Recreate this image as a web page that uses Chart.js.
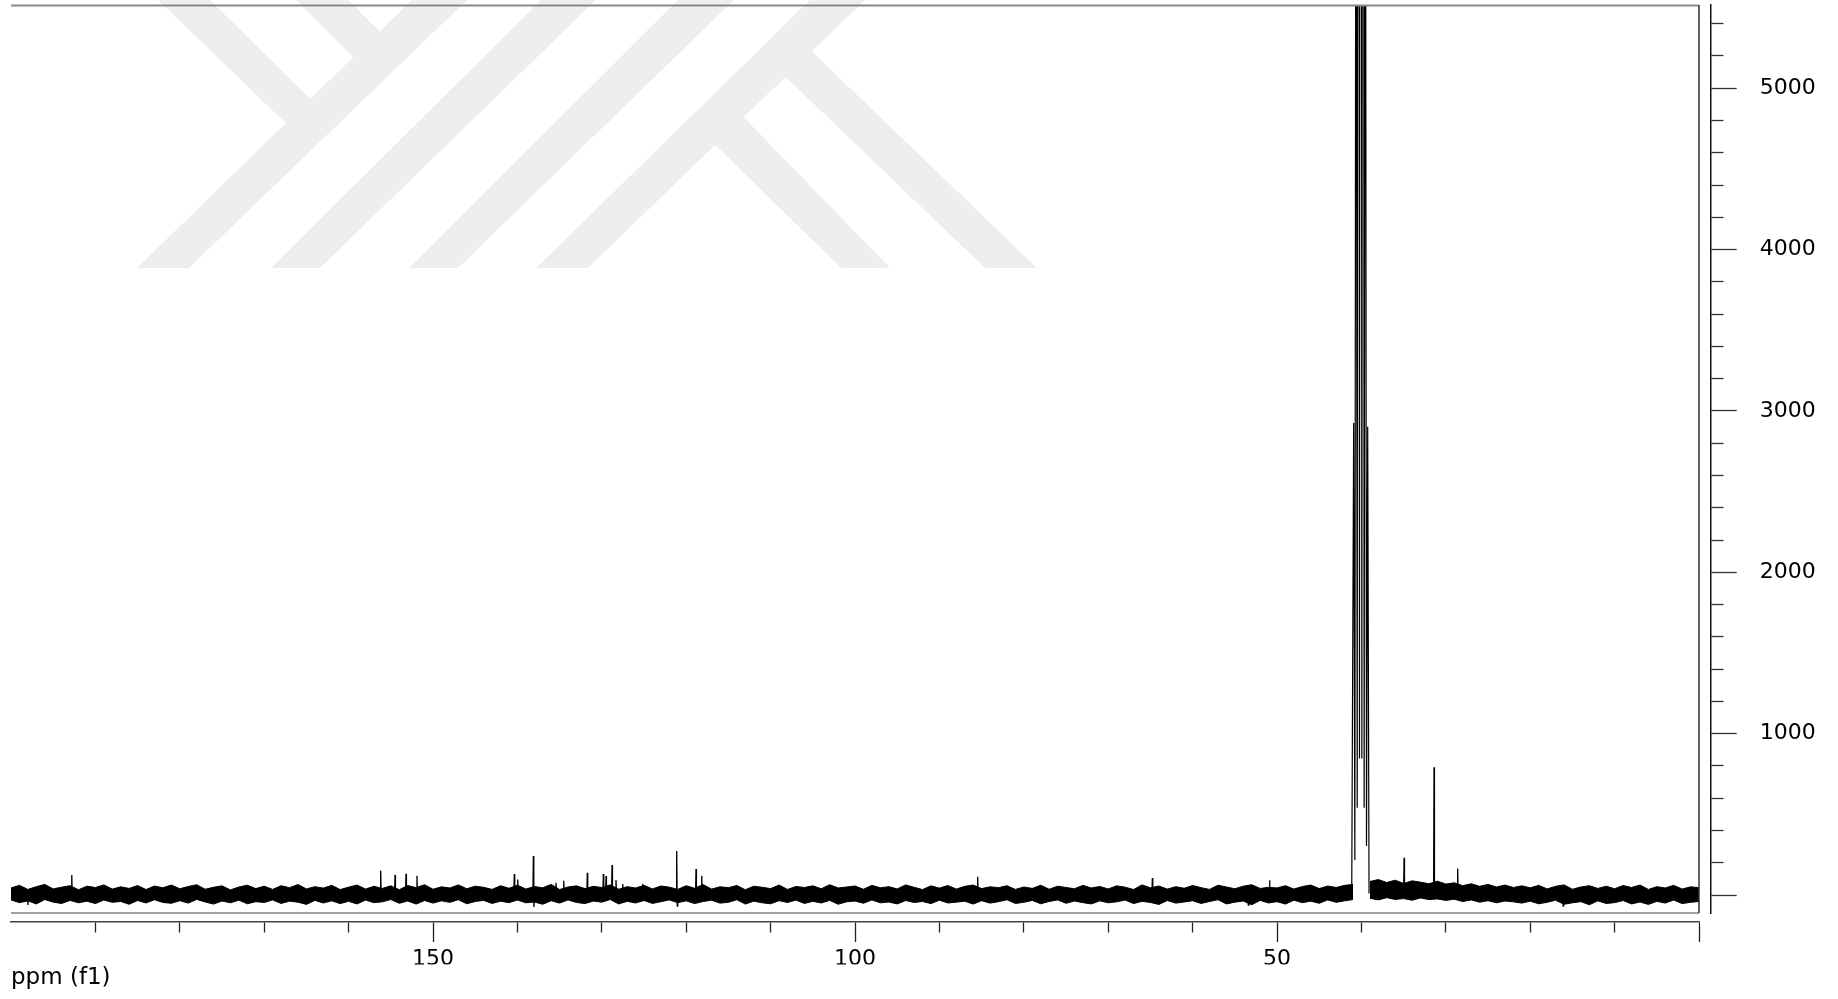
<!DOCTYPE html>
<html>
<head>
<meta charset="utf-8">
<title>13C NMR spectrum</title>
<script src="https://cdn.jsdelivr.net/npm/chart.js@4.4.1/dist/chart.umd.min.js"></script>
<style>
  html, body { margin: 0; padding: 0; background: #fff; }
  #wrap { width: 1838px; height: 999px; position: relative; }
</style>
</head>
<body>
<div id="wrap"><canvas id="spectrum"></canvas></div>
<script>
// axis windows
const ppmRange = [-1.38, 200];
const intensityRange = [-167, 5516];
const ppmLabelTicks = [150, 100, 50];
const intensityLabelTicks = [1000, 2000, 3000, 4000, 5000];

// baseline noise band, upper and lower extent every 1 ppm from 200 down to 0
const noiseStartPpm = 200;
const noiseTop = [
  44, 60, 35, 52, 66, 38, 49, 58, 33, 55,
  47, 63, 37, 51, 41, 59, 34, 56, 45, 62,
  39, 53, 64, 36, 48, 57, 32, 50, 61, 40,
  55, 35, 58, 46, 65, 38, 52, 43, 60, 34,
  49, 62, 37, 54, 41, 57, 33, 59, 46, 64,
  36, 51, 44, 63, 39, 55, 48, 35, 58, 42,
  61, 37, 53, 45, 66, 34, 50, 57, 40, 54,
  47, 63, 36, 52, 44, 60, 38, 56, 49, 35,
  58, 42, 65, 37, 51, 46, 59, 33, 55, 48,
  40, 62, 35, 53, 47, 57, 39, 64, 44, 50,
  56, 36, 60, 45, 52, 38, 63, 48, 34, 57,
  43, 59, 37, 54, 62, 40, 51, 46, 58, 35,
  50, 41, 61, 36, 55, 47, 39, 60, 44, 53,
  38, 57, 49, 34, 63, 45, 56, 37, 52, 42,
  59, 46, 35, 61, 50, 39, 55, 64, 41, 48,
  44, 58, 37, 53, 62, 40, 56, 47, 60, 66,
  null, 84, 96, 78, 92, 72, 88, 80, 70, 86,
  68, 76, 58, 70, 54, 66, 50, 62, 47, 57,
  45, 60, 38, 54, 63, 36, 50, 58, 41, 55,
  39, 59, 47, 62, 35, 52, 44, 60, 37, 51,
  46
];
const noiseBottom = [
  -30, -47, -36, -55, -28, -44, -52, -33, -48, -38,
  -53, -31, -45, -40, -57, -34, -49, -29, -46, -51,
  -35, -50, -27, -43, -56, -37, -48, -32, -54, -41,
  -46, -30, -52, -38, -44, -58, -33, -49, -36, -53,
  -39, -55, -31, -47, -42, -28, -51, -37, -56, -34,
  -50, -36, -45, -29, -54, -40, -33, -52, -38, -47,
  -31, -48, -43, -57, -35, -50, -30, -46, -53, -37,
  -44, -28, -55, -39, -49, -34, -52, -41, -30, -47,
  -36, -53, -40, -32, -50, -45, -29, -56, -38, -48,
  -54, -35, -46, -31, -52, -39, -49, -33, -57, -42,
  -37, -51, -30, -48, -43, -55, -34, -46, -40, -53,
  -32, -49, -44, -38, -56, -35, -50, -41, -29, -52,
  -45, -33, -54, -40, -30, -51, -37, -47, -55, -36,
  -48, -42, -31, -53, -39, -46, -58, -34, -50, -43,
  -35, -52, -40, -29, -55, -44, -37, -60, -33, -49,
  -41, -56, -32, -47, -38, -51, -30, -45, -36, -28,
  null, -20, -30, -16, -27, -22, -32, -18, -28, -24,
  -33, -26, -40, -30, -44, -35, -48, -37, -42, -50,
  -38, -54, -45, -32, -57, -48, -41, -60, -36, -52,
  -47, -34, -55, -43, -58, -39, -50, -31, -53, -45,
  -40
];

// single lines and sharp dips (ppm, intensity)
const peakPpm = [
  198.0, 192.8, 156.2, 154.5, 153.2, 151.9, 140.37, 139.96, 138.11, 138.04,
  135.43, 134.51, 131.72, 129.82, 129.50, 128.79, 128.32, 127.52, 125.15, 121.13,
  121.06, 118.84, 118.16, 85.47, 64.77, 53.4, 50.89, 34.95, 31.40, 28.60, 16.1
];
const peakHeight = [
  -62, 124, 150, 125, 132, 120, 130, 97, 242, -74,
  76, 89, 138, 130, 118, 186, 93, 68, 70, 273,
  -68, 161, 120, 113, 105, -62, 91, 231, 792, 165, -68
];

// solvent septet, lines and valleys
const septetPpm = [41.15, 40.92, 40.78, 40.64, 40.50, 40.37, 40.23, 40.09, 39.95, 39.81, 39.68, 39.54, 39.40, 39.26, 39.10];
const septetIntensity = [10, 2926, 217, 8700, 541, 17400, 847, 20300, 847, 17400, 541, 8700, 304, 2903, 10];

var tickFont = { family: "'DejaVu Sans', sans-serif", size: 22 };

var bandTop = noiseTop.map(function (v, i) { return { x: noiseStartPpm - i, y: v }; });
var bandBottom = noiseBottom.map(function (v, i) { return { x: noiseStartPpm - i, y: v }; });

var peakPoints = [];
peakPpm.forEach(function (p, i) {
  peakPoints.push({ x: p + 0.05, y: 15 }, { x: p, y: peakHeight[i] }, { x: p - 0.05, y: 15 }, { x: p - 0.05, y: null });
});

var septetPoints = septetPpm.map(function (p, i) { return { x: p, y: septetIntensity[i] }; });

// light grey logo behind the plot
var watermark = {
  id: "watermark",
  beforeDraw: function (chart) {
    var ctx = chart.ctx;
    var shapes = [
      [[158, 0], [210, 0], [324, 112], [299, 136]],
      [[296, 0], [348, 0], [393, 45], [367, 71]],
      [[412, 0], [467, 0], [189, 268], [137, 268]],
      [[541, 0], [596, 0], [320, 268], [271, 268]],
      [[678, 0], [734, 0], [458, 268], [409, 268]],
      [[810, 0], [865, 0], [588, 268], [536, 268]],
      [[798, 38], [1037, 268], [985, 268], [772, 64]],
      [[731, 104], [890, 268], [841, 268], [702, 132]]
    ];
    ctx.save();
    ctx.fillStyle = "#eeeeee";
    shapes.forEach(function (s) {
      ctx.beginPath();
      ctx.moveTo(s[0][0], s[0][1]);
      for (var k = 1; k < s.length; k++) ctx.lineTo(s[k][0], s[k][1]);
      ctx.closePath();
      ctx.fill();
    });
    ctx.restore();
  }
};

// plot box drawn a little inside the two axes
var frameBox = {
  id: "frameBox",
  afterDraw: function (chart) {
    var ctx = chart.ctx;
    var area = chart.chartArea;
    var xr = Math.round(chart.scales.x.getPixelForValue(0));
    var yb = Math.round(chart.scales.y.getPixelForValue(-113));
    ctx.save();
    ctx.fillStyle = "#fff";
    ctx.fillRect(xr + 1, yb + 1, area.right - xr + 3, area.bottom - yb + 3);
    ctx.lineWidth = 2;
    ctx.strokeStyle = "#888";
    ctx.beginPath();
    ctx.moveTo(area.left, area.top + 0.5);
    ctx.lineTo(xr, area.top + 0.5);
    ctx.stroke();
    ctx.lineWidth = 1.5;
    ctx.strokeStyle = "#808080";
    ctx.beginPath();
    ctx.moveTo(area.left, yb);
    ctx.lineTo(xr, yb);
    ctx.stroke();
    ctx.strokeStyle = "#333";
    ctx.beginPath();
    ctx.moveTo(xr, area.top);
    ctx.lineTo(xr, yb);
    ctx.stroke();
    ctx.restore();
  }
};

var chart = new Chart(document.getElementById("spectrum").getContext("2d"), {
  type: "line",
  data: {
    datasets: [
      {
        label: "septet",
        data: septetPoints,
        borderColor: "#000",
        borderWidth: 1.2,
        pointRadius: 0,
        fill: false
      },
      {
        label: "lines",
        data: peakPoints,
        borderColor: "#000",
        borderWidth: 1.3,
        pointRadius: 0,
        spanGaps: false,
        fill: false
      },
      {
        label: "noise top",
        data: bandTop,
        borderColor: "#000",
        borderWidth: 1,
        backgroundColor: "#000",
        pointRadius: 0,
        fill: "+1"
      },
      {
        label: "noise bottom",
        data: bandBottom,
        borderColor: "#000",
        borderWidth: 1,
        pointRadius: 0,
        fill: false
      }
    ]
  },
  options: {
    responsive: true,
    maintainAspectRatio: false,
    animation: false,
    devicePixelRatio: 1,
    events: [],
    layout: { padding: { left: 11, top: 5, right: 0, bottom: 0 } },
    elements: { line: { tension: 0 } },
    plugins: {
      legend: { display: false },
      tooltip: { enabled: false },
      title: {
        display: true,
        position: "bottom",
        align: "start",
        text: "ppm (f1)",
        color: "#000",
        font: { family: "'DejaVu Sans', sans-serif", size: 23, weight: "normal" },
        padding: { top: 0, bottom: 7 }
      }
    },
    scales: {
      x: {
        type: "linear",
        reverse: true,
        min: ppmRange[0],
        max: ppmRange[1],
        border: { color: "#444", width: 1.5 },
        grid: {
          drawOnChartArea: false,
          tickLength: 20,
          tickWidth: 1.3,
          tickColor: function (c) { return c.tick && c.tick.value === 200 ? "rgba(0,0,0,0)" : "#222"; },
          tickBorderDash: function (c) { return c.tick && c.tick.value % 50 === 0 ? [] : [10, 60]; }
        },
        ticks: {
          stepSize: 10,
          includeBounds: false,
          autoSkip: false,
          maxRotation: 0,
          padding: 4,
          color: "#000",
          font: tickFont,
          callback: function (v) { return ppmLabelTicks.indexOf(v) >= 0 ? String(v) : ""; }
        },
        afterFit: function (s) { s.height = 42.4; s.paddingLeft = 0; s.paddingRight = 0; }
      },
      y: {
        type: "linear",
        position: "right",
        min: intensityRange[0],
        max: intensityRange[1],
        border: { color: "#111", width: 1.5 },
        grid: {
          drawOnChartArea: false,
          tickLength: 26,
          tickWidth: 1.3,
          tickColor: "#333",
          tickBorderDash: function (c) { return c.tick && c.tick.value % 1000 === 0 ? [] : [12, 60]; }
        },
        ticks: {
          stepSize: 200,
          includeBounds: false,
          autoSkip: false,
          padding: 23,
          color: "#000",
          font: tickFont,
          callback: function (v) { return intensityLabelTicks.indexOf(v) >= 0 ? String(v) : ""; }
        },
        afterFit: function (s) { s.width = 127.3; s.paddingTop = 0; s.paddingBottom = 0; }
      }
    }
  },
  plugins: [watermark, frameBox]
});
</script>
</body>
</html>
